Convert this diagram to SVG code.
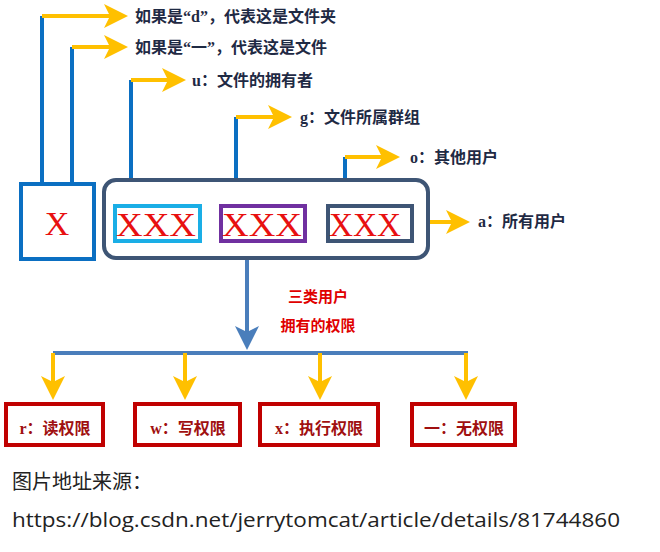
<svg xmlns="http://www.w3.org/2000/svg" width="660" height="552" viewBox="0 0 660 552">
<defs>
<marker id="ya" markerWidth="6" markerHeight="6" refX="5" refY="3" orient="auto" markerUnits="strokeWidth"><path d="M0,0 L6,3 L0,6 L1.5,3 Z" fill="#ffc000"/></marker>
<marker id="ba" markerWidth="6" markerHeight="6" refX="5" refY="3" orient="auto" markerUnits="strokeWidth"><path d="M0,0 L6,3 L0,6 L1.5,3 Z" fill="#4a7ebb"/></marker>
</defs>
<style>
.bl{stroke:#0b6fc2;stroke-width:4;fill:none}
.yl{stroke:#ffc000;stroke-width:4;fill:none;marker-end:url(#ya)}
.lab{font-family:"Liberation Serif","Noto Sans CJK SC",serif;font-size:16px;font-weight:bold;fill:#1f2a44}
.xx{font-family:"Liberation Serif",serif;font-size:34px;fill:#e81010}
.pb{fill:#fff;stroke:#c00000;stroke-width:4}
.pt{font-family:"Liberation Serif","Noto Sans CJK SC",serif;font-size:16px;font-weight:bold;fill:#a01010}
</style>
<g id="connectors">
<path class="bl" d="M42,183 V16"/><path class="yl" d="M42,16 H124"/>
<path class="bl" d="M72,183 V47"/><path class="yl" d="M72,47 H124"/>
<path class="bl" d="M131,206 V80"/><path class="yl" d="M131,80 H182"/>
<path class="bl" d="M236,206 V117"/><path class="yl" d="M236,117 H288"/>
<path class="bl" d="M345,206 V157"/><path class="yl" d="M345,157 H396"/>
<path class="yl" d="M428,222 H466"/>
<path d="M247,258 V346" stroke="#4a7ebb" stroke-width="4" marker-end="url(#ba)"/>
<path d="M53,353 H468" stroke="#4a7ebb" stroke-width="4"/>
<path class="yl" d="M53,353 V396"/><path class="yl" d="M185,353 V396"/>
<path class="yl" d="M320,353 V396"/><path class="yl" d="M466,353 V396"/>
</g>
<g id="labels">
<text class="lab" x="135" y="22">如果是“d”，代表这是文件夹</text>
<text class="lab" x="135" y="53">如果是“一”，代表这是文件</text>
<text class="lab" x="192" y="86">u：文件的拥有者</text>
<text class="lab" x="300" y="123">g：文件所属群组</text>
<text class="lab" x="410" y="163">o：其他用户</text>
<text class="lab" x="478" y="227">a：所有用户</text>
<text x="318" y="302" text-anchor="middle" font-family="'Noto Sans CJK SC',sans-serif" font-size="15" font-weight="bold" fill="#e00000">三类用户</text>
<text x="318" y="331" text-anchor="middle" font-family="'Noto Sans CJK SC',sans-serif" font-size="15" font-weight="bold" fill="#e00000">拥有的权限</text>
</g>
<g id="nodeX"><rect x="21" y="184" width="73" height="75" fill="#fff" stroke="#0b6fc2" stroke-width="4"/><text class="xx" x="57" y="235" text-anchor="middle">X</text></g>
<g id="group"><rect x="104" y="180" width="324" height="78" rx="12" fill="#fff" stroke="#3e5575" stroke-width="4"/></g>
<g id="u"><rect x="115" y="206" width="85" height="35" fill="#fff" stroke="#1aaee6" stroke-width="4"/><text class="xx" x="116" y="236" textLength="80" lengthAdjust="spacingAndGlyphs">XXX</text></g>
<g id="g"><rect x="221" y="206" width="84" height="35" fill="#fff" stroke="#7030a0" stroke-width="4"/><text class="xx" x="222" y="236" textLength="80" lengthAdjust="spacingAndGlyphs">XXX</text></g>
<g id="o"><rect x="328" y="206" width="84" height="35" fill="#fff" stroke="#3e5575" stroke-width="4"/><text class="xx" x="329" y="236" textLength="72" lengthAdjust="spacingAndGlyphs">XXX</text></g>
<g id="r"><rect class="pb" x="6" y="404" width="97" height="41"/><text class="pt" x="55" y="434" text-anchor="middle">r：读权限</text></g>
<g id="w"><rect class="pb" x="135" y="404" width="105" height="41"/><text class="pt" x="188" y="434" text-anchor="middle">w：写权限</text></g>
<g id="x"><rect class="pb" x="260" y="404" width="118" height="41"/><text class="pt" x="319" y="434" text-anchor="middle">x：执行权限</text></g>
<g id="none"><rect class="pb" x="412" y="404" width="103" height="41"/><text class="pt" x="464" y="434" text-anchor="middle">一：无权限</text></g>
<g id="source" font-family="'Noto Sans CJK SC',sans-serif" font-size="20" fill="#222">
<text x="12" y="489">图片地址来源：</text>
<text x="12" y="527" font-family="'Open Sans','Noto Sans CJK SC',sans-serif" font-size="20" textLength="608" lengthAdjust="spacingAndGlyphs">https://blog.csdn.net/jerrytomcat/article/details/81744860</text>
</g>
</svg>
